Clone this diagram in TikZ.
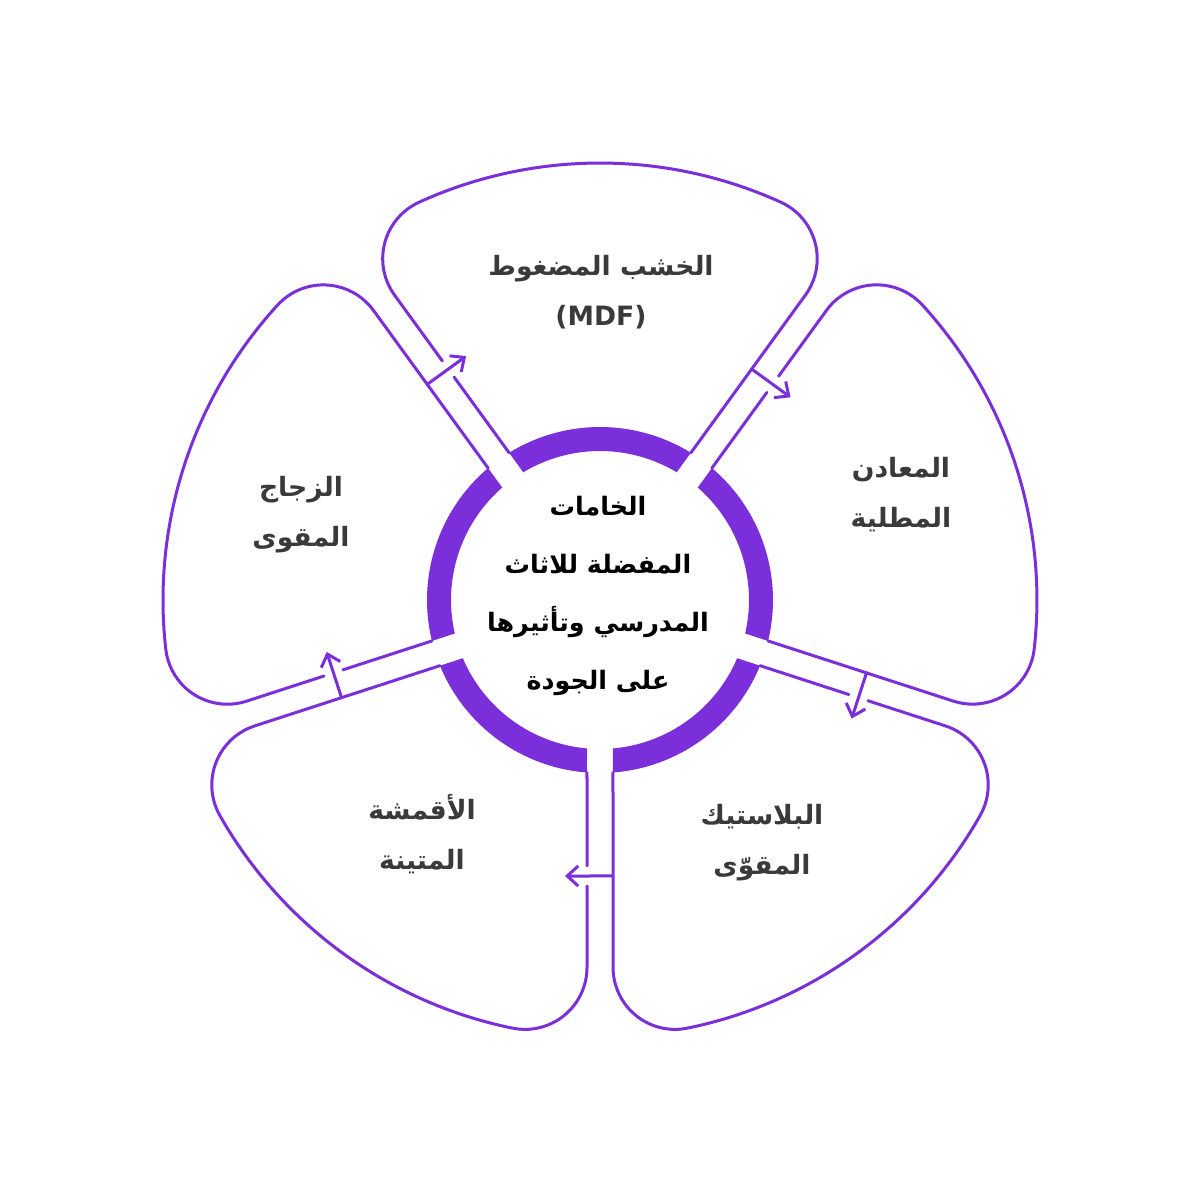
\documentclass[tikz,border=0pt]{standalone}
\usepackage{fontspec}
\TeXXeTstate=1
\newfontfamily\arfont[Script=Arabic]{DejaVu Sans}
\newfontfamily\latfont{DejaVu Sans}
\usetikzlibrary{arrows.meta}
\definecolor{vio}{HTML}{7B2FDB}
\definecolor{txt}{HTML}{3A3A3A}
\begin{document}
\begin{tikzpicture}[x=0.5pt,y=0.5pt,
  petal/.style={draw=vio,line width=1.5pt,line cap=round,line join=round},
  ringseg/.style={fill=vio},
  arr/.style={draw=vio,line width=1.5pt,line cap=round,-{Straight Barb[length=5.5pt,width=10pt,line width=1.5pt]}},
  ptext/.style={text=txt,align=center,font=\arfont\bfseries\fontsize{13.3}{25}\selectfont},
  ctext/.style={text=black,align=center,font=\arfont\bfseries\fontsize{12.7}{29}\selectfont}]
\useasboundingbox[fill=white] (-600,-600) rectangle (600,600);
\foreach \r in {0,-72,-144,144,72}{
\begin{scope}[rotate=\r]
  \fill[ringseg] (121.69:173) arc[start angle=121.69, end angle=58.31, radius=173]
     -- (59.005:149) arc[start angle=59.005, end angle=120.995, radius=149] -- cycle;
  \draw[petal] (-90.88,147.20) -- (-145.83,222.83) (-157.59,239.01) -- (-205.45,304.88)
     arc[start angle=216, end angle=114.46, radius=62]
     arc[start angle=114.46, end angle=65.54, radius=437]
     arc[start angle=65.54, end angle=-36, radius=62] -- (90.88,147.20);
  \draw[arr] (151.71,230.92) -- (190.55,202.71);
\end{scope}}
\node[ptext] (mdf) at (1,308) {\beginR الخشب المضغوط\endR\\{\latfont\bfseries (MDF)}};
\node[ptext] (met) at (301,105) {\beginR المعادن\endR\\\beginR المطلية\endR};
\node[ptext] (pla) at (162,-243) {\beginR البلاستيك\endR\\\beginR المقوّى\endR};
\node[ptext] (fab) at (-178,-234) {\beginR الأقمشة\endR\\\beginR المتينة\endR};
\node[ptext] (gla) at (-299,85) {\beginR الزجاج\endR\\\beginR المقوى\endR};
\node[ctext] (ctr) at (-2,4.5) {\beginR الخامات\endR\\\beginR المفضلة للاثاث\endR\\\beginR المدرسي وتأثيرها\endR\\\beginR على الجودة\endR};
\end{tikzpicture}
\end{document}
